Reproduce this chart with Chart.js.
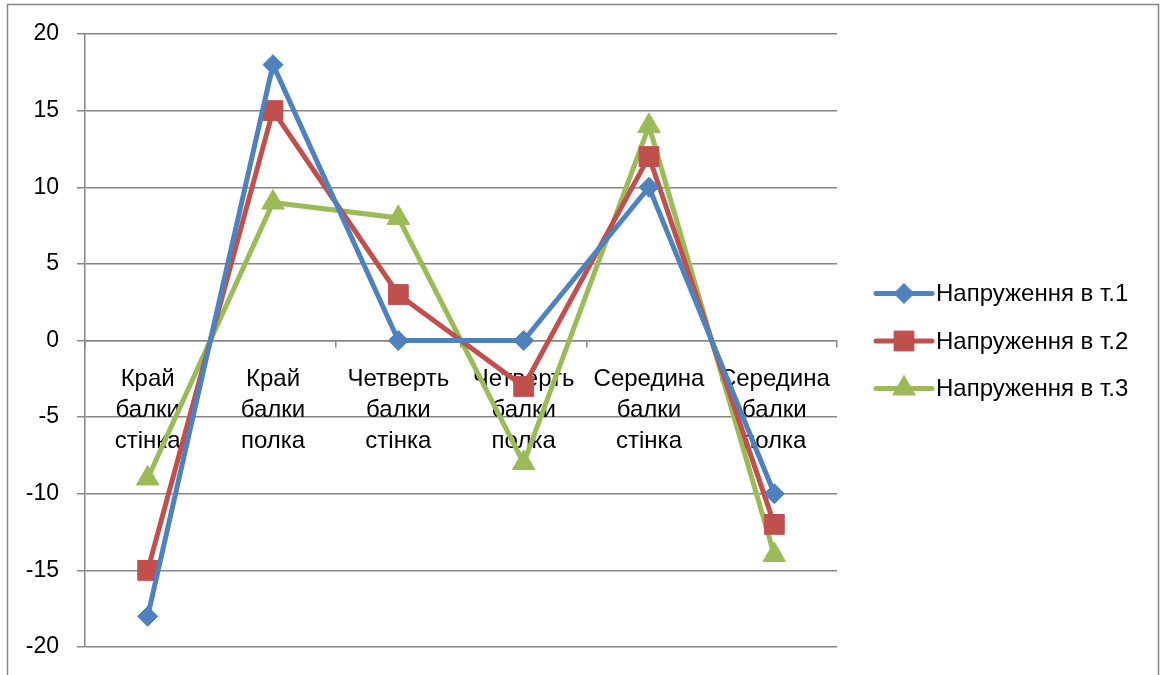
<!DOCTYPE html>
<html>
<head>
<meta charset="utf-8">
<script src="https://cdn.jsdelivr.net/npm/chart.js@4/dist/chart.umd.min.js"></script>
<style>
  body { margin: 0; background: #fff; }
  #wrap { width: 1160px; height: 675px; }
</style>
</head>
<body>
<div id="wrap"><canvas id="chart" width="1160" height="675"></canvas></div>
<script>
// categories (multi-line labels) and measured stress values
const categories = [
  ['Край', 'балки', 'стінка'],
  ['Край', 'балки', 'полка'],
  ['Четверть', 'балки', 'стінка'],
  ['Четверть', 'балки', 'полка'],
  ['Середина', 'балки', 'стінка'],
  ['Середина', 'балки', 'полка'],
];
const seriesNames = ['Напруження в т.1', 'Напруження в т.2', 'Напруження в т.3'];
const stressPoint1 = [-18, 18, 0, 0, 10, -10];
const stressPoint2 = [-15, 15, 3, -3, 12, -12];
const stressPoint3 = [-9, 9, 8, -8, 14, -14];
const yMin = -20;
const yMax = 20;
const yStep = 5;

const FONT = "'Liberation Sans', Arial, sans-serif";
const GRID = '#868686';

const makeSeries = (label, data, color, pointStyle, radius) => ({
  label,
  data,
  borderColor: color,
  backgroundColor: color,
  borderWidth: 5,
  tension: 0,
  pointStyle,
  pointRadius: radius,
  pointHoverRadius: radius,
  pointBorderWidth: 1,
  pointBackgroundColor: color,
  pointBorderColor: color,
});

// outer frame around the whole chart
const framePlugin = {
  id: 'frame',
  beforeDraw(chart) {
    const ctx = chart.ctx;
    ctx.save();
    ctx.fillStyle = '#fff';
    ctx.fillRect(0, 0, chart.width, chart.height);
    ctx.strokeStyle = GRID;
    ctx.lineWidth = 1.5;
    ctx.strokeRect(7.5, 4.5, 1151, 720);
    ctx.restore();
  },
};

// legend on the right: line segment with marker, then the label
const sideLegend = {
  id: 'sideLegend',
  afterDraw(chart) {
    const ctx = chart.ctx;
    const x0 = 876, x1 = 932, rowGap = 47.5;
    const yc = 341 - rowGap;
    ctx.save();
    chart.data.datasets.forEach((ds, i) => {
      const y = yc + i * rowGap;
      ctx.strokeStyle = ds.borderColor;
      ctx.lineWidth = 5;
      ctx.lineCap = 'round';
      ctx.beginPath();
      ctx.moveTo(x0, y);
      ctx.lineTo(x1, y);
      ctx.stroke();
      ctx.lineCap = 'butt';
      ctx.fillStyle = ds.pointBackgroundColor;
      ctx.strokeStyle = ds.pointBorderColor;
      ctx.lineWidth = 1;
      Chart.helpers.drawPoint(ctx, {
        pointStyle: ds.pointStyle,
        radius: ds.pointRadius,
        rotation: 0,
        borderWidth: 1,
      }, (x0 + x1) / 2, y);
      ctx.fillStyle = '#000';
      ctx.font = '24px ' + FONT;
      ctx.textBaseline = 'middle';
      ctx.textAlign = 'left';
      ctx.fillText(ds.label, x1 + 4, y + 1);
    });
    ctx.restore();
  },
};

new Chart(document.getElementById('chart'), {
  type: 'line',
  data: {
    labels: categories,
    datasets: [
      makeSeries(seriesNames[0], stressPoint1, '#4F81BD', 'rectRot', 10),
      makeSeries(seriesNames[1], stressPoint2, '#C0504D', 'rect', 14),
      makeSeries(seriesNames[2], stressPoint3, '#9BBB59', 'triangle', 13),
    ],
  },
  options: {
    responsive: false,
    animation: false,
    layout: { padding: { left: 0, top: 34, right: 323, bottom: 28 } },
    plugins: {
      legend: { display: false },
      tooltip: { enabled: false },
    },
    scales: {
      x: {
        type: 'category',
        position: { y: 0 },
        offset: true,
        afterFit(scale) {
          scale.height = 0;
          scale.paddingTop = 0;
          scale.paddingBottom = 0;
        },
        grid: {
          offset: true,
          drawOnChartArea: false,
          drawTicks: true,
          tickLength: 6,
          color: GRID,
          lineWidth: 1.5,
        },
        border: { color: GRID, width: 1.5 },
        ticks: {
          color: '#000',
          font: { family: FONT, size: 24, lineHeight: '31px' },
          padding: 17,
          autoSkip: false,
          maxRotation: 0,
          minRotation: 0,
        },
      },
      y: {
        min: yMin,
        max: yMax,
        afterFit(scale) {
          scale.width = 85;
          scale.paddingTop = 0;
          scale.paddingBottom = 0;
        },
        grid: {
          color: GRID,
          lineWidth: 1.5,
          tickLength: 8,
        },
        border: { color: GRID, width: 1.5 },
        ticks: {
          stepSize: yStep,
          color: '#000',
          font: { family: FONT, size: 23 },
          padding: 18,
        },
      },
    },
  },
  plugins: [framePlugin, sideLegend],
});
</script>
</body>
</html>
